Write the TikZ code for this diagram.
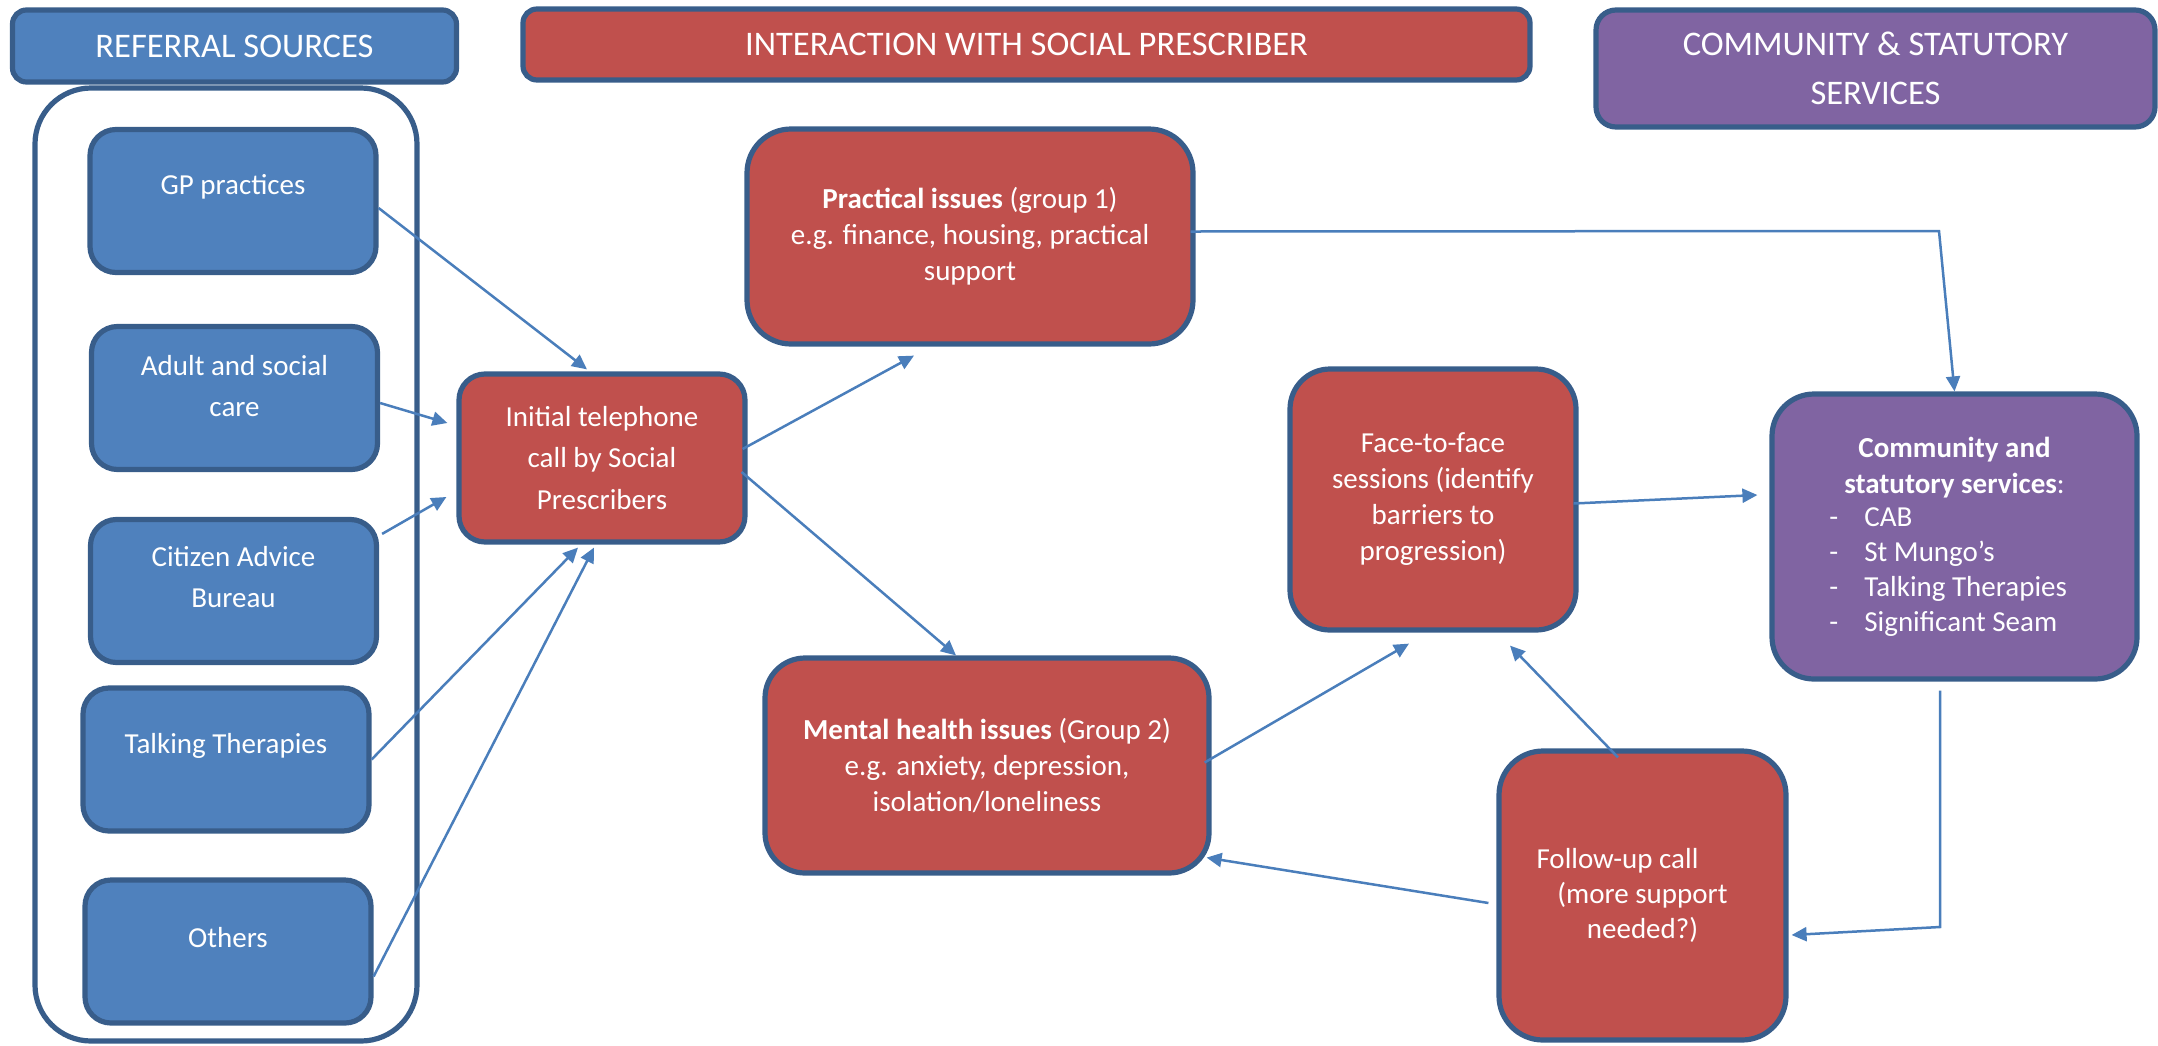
\documentclass[tikz,border=0pt]{standalone}
\usepackage{fontspec}
\setmainfont{Carlito}
\usetikzlibrary{positioning,arrows.meta,calc}
\definecolor{srcblue}{HTML}{4F81BD}
\definecolor{sprred}{HTML}{C0504D}
\definecolor{svcpurple}{HTML}{8064A2}
\definecolor{edgeblue}{HTML}{385D8A}
\definecolor{linkblue}{HTML}{4A7EBB}
\tikzset{
  hdr/.style={draw=edgeblue, line width=2.6pt, rounded corners=7pt, text=white, align=center, inner sep=0pt, font=\fontsize{17.25}{24.5}\selectfont},
  panel/.style={draw=edgeblue, line width=2.6pt, text=white, align=center, inner sep=0pt, font=\fontsize{14.5}{18}\selectfont},
  refbox/.style={panel, fill=srcblue, minimum width=143pt, minimum height=71.5pt, rounded corners=13pt},
  reftxt/.style={text=white, align=center, inner sep=0pt, font=\fontsize{14.5}{20.75}\selectfont},
  sprbox/.style={panel, fill=sprred},
  svcbox/.style={panel, fill=svcpurple},
  link/.style={draw=linkblue, line width=1.25pt, -{Triangle[length=7.5pt,width=7pt]}},
}
\newcommand{\svcitem}[1]{\makebox[17.5pt][l]{-}#1}

\begin{document}
\begin{tikzpicture}[x=0.5pt, y=-0.5pt]
  \useasboundingbox (0,0) rectangle (2158,1045);
  % column headings
  \node[hdr, fill=srcblue, minimum width=222pt, minimum height=36pt] (hsrc) at (234.5,46) {REFERRAL SOURCES};
  \node[hdr, fill=sprred, minimum width=503.5pt, minimum height=35.5pt] (hspr) at (1026.5,44.5) {INTERACTION WITH SOCIAL PRESCRIBER};
  \node[hdr, fill=svcpurple, minimum width=279.5pt, minimum height=58.5pt, rounded corners=10pt] (hsvc) at (1875.5,68.5) {COMMUNITY \& STATUTORY\\SERVICES};
  % referral sources column
  \node[draw=edgeblue, line width=2.6pt, rounded corners=28pt, minimum width=191pt, minimum height=476.5pt] (srccol) at (226,564.5) {};
  \node[refbox] (gp) at (233,201) {};
  \node[reftxt] at ($(gp)+(0,-14)$) {GP practices};
  \node[refbox] (adult) at (234.5,398) {};
  \node[reftxt] at ($(adult)+(0,-12)$) {Adult and social\\care};
  \node[refbox] (cab) at (233.5,591) {};
  \node[reftxt] at ($(cab)+(0,-14)$) {Citizen Advice\\Bureau};
  \node[refbox] (talk) at (226,759.5) {};
  \node[reftxt] at ($(talk)+(0,-14)$) {Talking Therapies};
  \node[refbox] (others) at (228,951.5) {};
  \node[reftxt] at ($(others)+(0,-14)$) {Others};
  % social prescriber steps
  \node[sprbox, minimum width=143pt, minimum height=84pt, rounded corners=13pt, font=\fontsize{14.5}{20.75}\selectfont] (init) at (602,458) {Initial telephone\\call by Social\\Prescribers};
  \node[sprbox, minimum width=223pt, minimum height=107.5pt, rounded corners=22pt] (prac) at (970,236.5) {\textbf{Practical issues} (group 1)\\e.g. finance, housing, practical\\support};
  \node[sprbox, minimum width=222pt, minimum height=107.5pt, rounded corners=20pt] (mental) at (987,765.5) {\textbf{Mental health issues} (Group 2)\\e.g. anxiety, depression,\\isolation/loneliness};
  \node[sprbox, minimum width=143pt, minimum height=130.5pt, rounded corners=20pt] (face) at (1433,499.5) {Face-to-face\\sessions (identify\\barriers to\\progression)};
  \node[sprbox, minimum width=143.5pt, minimum height=144.5pt, rounded corners=22pt, font=\fontsize{14.5}{17.5}\selectfont] (follow) at (1642.5,895.5) {Follow-up call\hspace*{25pt}\\(more support\\needed?)};
  % community and statutory services
  \node[svcbox, minimum width=182.5pt, minimum height=142.5pt, rounded corners=21pt] (comm) at (1954.5,536.5) {};
  \node[reftxt, font=\fontsize{14.5}{18}\selectfont] at ($(comm)+(0,-69)$) {\textbf{Community and}\\\textbf{statutory services}:};
  \node[reftxt, align=left, anchor=west, font=\fontsize{14.5}{17.5}\selectfont] at ($(comm)+(-125.5,36)$) {\svcitem{CAB}\\\svcitem{St Mungo’s}\\\svcitem{Talking Therapies}\\\svcitem{Significant Seam}};
  % bends of the elbow connectors
  \coordinate (pbend) at (1939,231);
  \coordinate (cbend) at (1940,927);
  % referrals into the first call
  \draw[link] ($(gp.east)+(0,7)$) -- ($(init.north)+(-15,-2)$);
  \draw[link] ($(adult.east)+(0,5)$) -- ($(init.west)+(-9,-35)$);
  \draw[link] ($(cab.north east)+(3,17)$) -- ($(init.west)+(-10,39)$);
  \draw[link] (talk.east) -- ($(init.south)+(-24,3)$);
  \draw[link] ($(others.east)+(0,25)$) -- ($(init.south)+(-8,3)$);
  % pathways
  \draw[link] ($(init.east)+(-5,-9)$) -- ($(prac.south)+(-56,9)$);
  \draw[link] ($(init.east)+(-6,14)$) -- ($(mental.north)+(-31,0)$);
  \draw[link] ($(prac.east)+(-5,-5)$) -- (pbend) -- (comm.north);
  \draw[link] ($(face.east)+(-5,4)$) -- ($(comm.west)+(-12,-41.5)$);
  \draw[link] ($(mental.east)+(-7,-3)$) -- ($(face.south)+(-24,11)$);
  \draw[link] ($(follow.north)+(-24.5,9)$) -- ($(face.south)+(77,13)$);
  \draw[link] ($(follow.west)+(-8,7.5)$) -- ($(mental.south east)+(-5,-18)$);
  \draw[link] ($(comm.south)+(-14.5,9)$) -- (cbend) -- ($(follow.east)+(3,39.5)$);
\end{tikzpicture}
\end{document}
